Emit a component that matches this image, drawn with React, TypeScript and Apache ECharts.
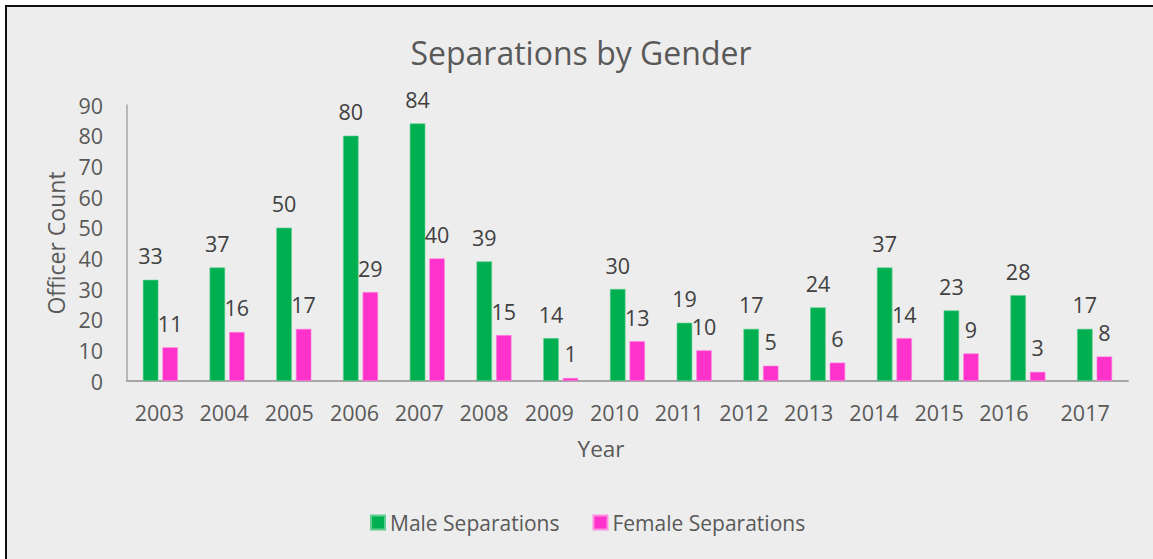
import React, { useEffect, useRef } from "react";
import * as echarts from "echarts";

const years = ["2003","2004","2005","2006","2007","2008","2009","2010","2011","2012","2013","2014","2015","2016","2017"];
const maleSeparations = [33, 37, 50, 80, 84, 39, 14, 30, 19, 17, 24, 37, 23, 28, 17];
const femaleSeparations = [11, 16, 17, 29, 40, 15, 1, 13, 10, 5, 6, 14, 9, 3, 8];
const yTicks = [0, 10, 20, 30, 40, 50, 60, 70, 80, 90];

// horizontal nudges (px, leftwards) of the year labels, as in the reference
const labelShift = [1, 3, 4.5, 6, 8, 10, 11.5, 13, 15, 17, 19, 20.5, 22, 24, 9.5];

const FONT = "'Open Sans', 'Noto Sans', sans-serif";
const NUM_SIZE = 21.5;

export default function App() {
  const ref = useRef<HTMLDivElement>(null);
  useEffect(() => {
    document.body.style.margin = "0";
    document.body.style.overflow = "hidden";
    const chart = echarts.init(ref.current!, null, { renderer: "svg" });
    const rich: Record<string, any> = {};
    years.forEach((y, i) => {
      rich["l" + i] = {
        padding: [0, 2 * labelShift[i], 0, 0],
        fontFamily: FONT,
        fontSize: NUM_SIZE,
        color: "#595959",
      };
    });
    const dataLabel = {
      show: true,
      position: "top",
      distance: 13,
      fontFamily: FONT,
      fontSize: NUM_SIZE,
      color: "#404040",
    };
    chart.setOption({
      animation: false,
      backgroundColor: "transparent",
      textStyle: { fontFamily: FONT },
      graphic: [
        {
          type: "text",
          x: 581,
          y: 52,
          style: {
            text: "Separations by Gender",
            fontFamily: FONT,
            fontSize: 32,
            fill: "#595959",
            align: "center",
            verticalAlign: "middle",
          },
        },
        {
          type: "text",
          x: 601,
          y: 448,
          style: {
            text: "Year",
            fontFamily: FONT,
            fontSize: 22.5,
            fill: "#595959",
            align: "center",
            verticalAlign: "middle",
          },
        },
      ],
      legend: {
        left: 365,
        top: 507,
        icon: "rect",
        itemWidth: 14,
        itemHeight: 14,
        itemGap: 33,
        textStyle: { fontFamily: FONT, fontSize: 21, color: "#595959" },
        data: ["Male Separations", "Female Separations"],
      },
      grid: { left: 127, right: 25, top: 105, bottom: 178, containLabel: false },
      xAxis: {
        type: "category",
        data: years,
        axisLine: { lineStyle: { color: "#a6a6a6", width: 2 } },
        axisTick: { show: false },
        axisLabel: {
          margin: 20,
          interval: 0,
          formatter: (v: string) => `{l${years.indexOf(v)}|${v}}`,
          rich,
        },
      },
      yAxis: {
        type: "value",
        min: yTicks[0],
        max: yTicks[yTicks.length - 1],
        interval: 10,
        name: "Officer Count",
        nameLocation: "middle",
        nameGap: 57,
        nameTextStyle: { fontFamily: FONT, fontSize: 23, color: "#595959" },
        axisLine: { show: true, lineStyle: { color: "#a6a6a6", width: 1.5 } },
        axisTick: { show: false },
        splitLine: { show: false },
        axisLabel: { margin: 24, fontFamily: FONT, fontSize: NUM_SIZE, color: "#595959" },
      },
      series: [
        {
          name: "Male Separations",
          type: "bar",
          data: maleSeparations,
          barWidth: 15.5,
          barGap: "26%",
          itemStyle: { color: "#00b050", borderColor: "#5fcf8f", borderWidth: 0.6 },
          label: dataLabel,
        },
        {
          name: "Female Separations",
          type: "bar",
          data: femaleSeparations,
          barWidth: 15.5,
          barGap: "26%",
          itemStyle: { color: "#ff33cc", borderColor: "#ff8fe0", borderWidth: 0.6 },
          label: dataLabel,
        },
      ],
    });
    return () => chart.dispose();
  }, []);

  return (
    <div style={{ position: "absolute", left: 0, top: 0, width: 1153, height: 559, background: "#ffffff", overflow: "hidden" }}>
      <div
        style={{
          position: "absolute",
          left: 5,
          top: 5,
          width: 1160,
          height: 570,
          background: "#ededed",
          borderLeft: "2px solid #111",
          borderTop: "2px solid #111",
        }}
      />
      <div ref={ref} style={{ position: "absolute", left: 0, top: 0, width: 1153, height: 559 }} />
    </div>
  );
}
